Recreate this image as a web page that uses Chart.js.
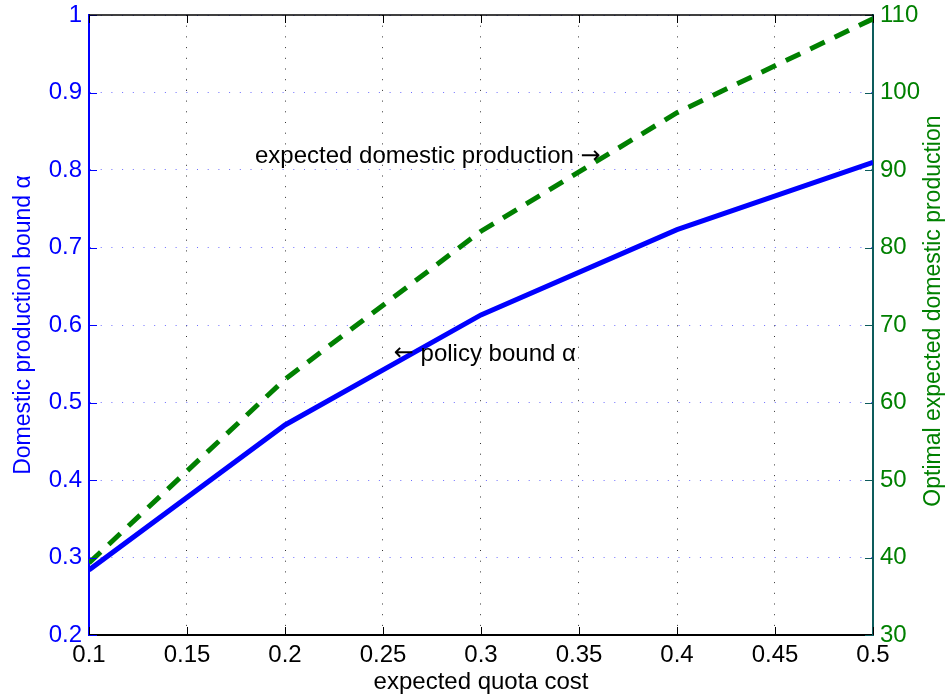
<!DOCTYPE html>
<html>
<head>
<meta charset="utf-8">
<script src="https://cdn.jsdelivr.net/npm/chart.js@4/dist/chart.umd.min.js"></script>
<style>
  html, body { margin: 0; padding: 0; background: #fff; }
  #wrap { width: 950px; height: 698px; }
</style>
</head>
<body>
<div id="wrap"><canvas id="c" width="950" height="698"></canvas></div>
<script>
// Policy bound and optimal expected domestic production vs. expected quota cost
const quotaCost = [0.1, 0.2, 0.3, 0.4, 0.5];
const policyBound = [0.284, 0.471, 0.613, 0.723, 0.81];
const expectedProduction = [39.3, 63.0, 82.1, 97.4, 109.5];

const xTicks = [0.1, 0.15, 0.2, 0.25, 0.3, 0.35, 0.4, 0.45, 0.5];
const leftTicks = [0.2, 0.3, 0.4, 0.5, 0.6, 0.7, 0.8, 0.9, 1];
const rightTicks = [30, 40, 50, 60, 70, 80, 90, 100, 110];

const rightTitle = 'Optimal expected domestic production';

// text notes: arrow before or after the words, anchored at (x, y) on the left axis
const notes = [
  { text: 'expected domestic production ', arrow: '\u2192', arrowFirst: false, x: 0.1847, y: 0.817 },
  { text: ' policy bound \u03b1', arrow: '\u2190', arrowFirst: true, x: 0.2555, y: 0.5626 }
];

const FONT = "'Liberation Sans', Arial, Helvetica, sans-serif";
const ARROW_FONT = "'DejaVu Sans', sans-serif";
const BLUE = '#0000ff';
const GREEN = '#008000';
const TEAL = '#0d5c5c';

const setTicks = (list) => (scale) => { scale.ticks = list.map(v => ({ value: v })); };

// Inward tick marks, top frame line, right axis title and text notes
const framePlugin = {
  id: 'frame',
  afterDatasetsDraw(chart) {
    const { ctx, chartArea: a, scales } = chart;
    const len = 8;
    ctx.save();
    ctx.lineWidth = 1;
    ctx.strokeStyle = '#000';
    xTicks.forEach(v => {
      const px = Math.round(scales.x.getPixelForValue(v)) + 0.5;
      ctx.beginPath();
      ctx.moveTo(px, a.bottom); ctx.lineTo(px, a.bottom - len);
      ctx.moveTo(px, a.top); ctx.lineTo(px, a.top + len);
      ctx.stroke();
    });
    ctx.strokeStyle = BLUE;
    leftTicks.forEach(v => {
      const py = Math.round(scales.y.getPixelForValue(v)) + 0.5;
      ctx.beginPath();
      ctx.moveTo(a.left, py); ctx.lineTo(a.left + len, py);
      ctx.stroke();
    });
    ctx.strokeStyle = TEAL;
    rightTicks.forEach(v => {
      const py = Math.round(scales.y1.getPixelForValue(v)) + 0.5;
      ctx.beginPath();
      ctx.moveTo(a.right, py); ctx.lineTo(a.right - len, py);
      ctx.stroke();
    });
    // top frame line
    ctx.strokeStyle = '#000';
    ctx.lineWidth = 1.5;
    ctx.beginPath();
    ctx.moveTo(a.left, a.top); ctx.lineTo(a.right, a.top);
    ctx.stroke();

    // notes
    ctx.fillStyle = '#000';
    ctx.textAlign = 'left';
    ctx.textBaseline = 'middle';
    notes.forEach(n => {
      let px = scales.x.getPixelForValue(n.x);
      const py = scales.y.getPixelForValue(n.y);
      const parts = n.arrowFirst
        ? [[n.arrow, ARROW_FONT], [n.text, FONT]]
        : [[n.text, FONT], [n.arrow, ARROW_FONT]];
      parts.forEach(([t, f]) => {
        ctx.font = '24px ' + f;
        ctx.fillText(t, px, py);
        px += ctx.measureText(t).width;
      });
    });

    // right axis title
    ctx.save();
    ctx.fillStyle = GREEN;
    ctx.font = '23px ' + FONT;
    ctx.textAlign = 'center';
    ctx.textBaseline = 'middle';
    ctx.translate(934, scales.y1.getPixelForValue(71.8));
    ctx.rotate(-Math.PI / 2);
    ctx.fillText(rightTitle, 0, 0);
    ctx.restore();

    ctx.restore();
  }
};

Chart.defaults.font.family = FONT;

new Chart(document.getElementById('c'), {
  type: 'line',
  data: {
    datasets: [
      {
        label: 'expected domestic production',
        data: quotaCost.map((x, i) => ({ x, y: expectedProduction[i] })),
        yAxisID: 'y1',
        borderColor: GREEN,
        borderWidth: 5,
        borderDash: [16, 11],
        borderCapStyle: 'butt',
        pointRadius: 0,
        tension: 0,
        fill: false,
        order: 0
      },
      {
        label: 'policy bound',
        data: quotaCost.map((x, i) => ({ x, y: policyBound[i] })),
        yAxisID: 'y',
        borderColor: BLUE,
        borderWidth: 5,
        pointRadius: 0,
        tension: 0,
        fill: false,
        order: 1
      }
    ]
  },
  options: {
    responsive: false,
    devicePixelRatio: 1,
    animation: false,
    layout: { padding: { top: 15, left: 0, right: 0, bottom: 0 } },
    plugins: { legend: { display: false }, tooltip: { enabled: false } },
    scales: {
      x: {
        type: 'linear',
        position: 'bottom',
        min: 0.1, max: 0.5,
        afterBuildTicks: setTicks(xTicks),
        afterFit: s => { s.height = 63; s.paddingLeft = 0; s.paddingRight = 0; },
        grid: { color: 'rgba(0,0,0,0.8)', lineWidth: 1, drawTicks: false },
        border: { display: true, color: '#000', width: 2, dash: [1, 9.7] },
        ticks: {
          color: '#000', font: { size: 24 }, padding: 6,
          maxRotation: 0, autoSkip: false, callback: v => String(v)
        },
        title: {
          display: true, text: 'expected quota cost', color: '#000',
          font: { size: 24 }, padding: { top: 0, bottom: 1 }
        }
      },
      y: {
        type: 'linear',
        position: 'left',
        min: 0.2, max: 1,
        afterBuildTicks: setTicks(leftTicks),
        afterFit: s => { s.width = 89; s.paddingTop = 0; s.paddingBottom = 0; },
        grid: { color: 'rgba(60,60,255,0.75)', lineWidth: 1, drawTicks: false },
        border: { display: true, color: BLUE, width: 2, dash: [1, 9.7] },
        ticks: { color: BLUE, font: { size: 24 }, padding: 7, callback: v => String(v) },
        title: {
          display: true, text: 'Domestic production bound \u03b1', color: BLUE,
          font: { size: 23 }, padding: { top: 10, bottom: 0 }
        }
      },
      y1: {
        type: 'linear',
        position: 'right',
        min: 30, max: 110,
        afterBuildTicks: setTicks(rightTicks),
        afterFit: s => { s.width = 77; s.paddingTop = 0; s.paddingBottom = 0; },
        grid: { display: false, drawTicks: false },
        border: { display: true, color: TEAL, width: 2 },
        ticks: { color: GREEN, font: { size: 24 }, padding: 7, callback: v => String(v) },
        title: { display: false }
      }
    }
  },
  plugins: [framePlugin]
});
</script>
</body>
</html>
